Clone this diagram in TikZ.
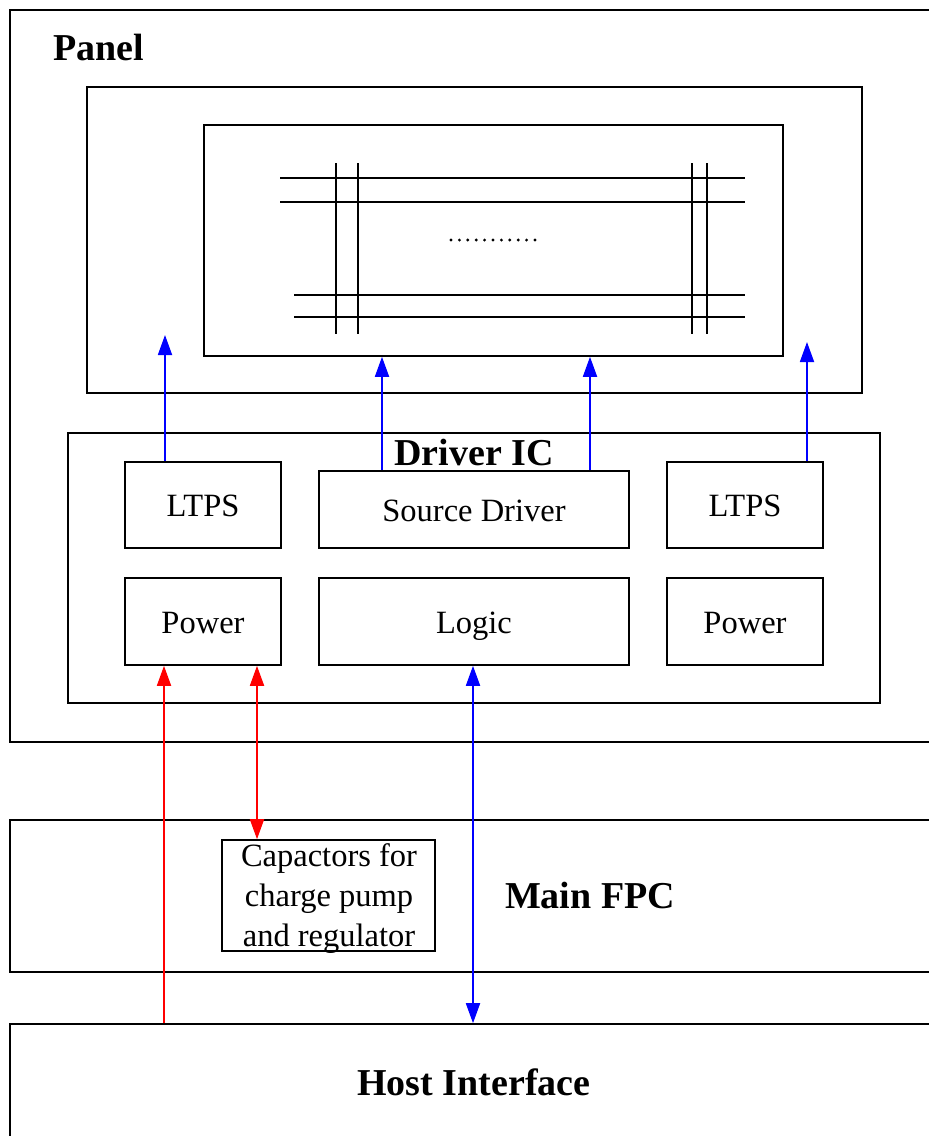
\documentclass[tikz,border=0pt]{standalone}
\usepackage{fontspec}
\setmainfont{Liberation Serif}
\usetikzlibrary{arrows.meta,calc}

\begin{document}
\begin{tikzpicture}[x=1bp,y=-1bp]

\tikzset{
    box/.style={draw,line width=1.6bp,inner sep=0pt,font=\fontsize{32.5bp}{40bp}\selectfont},
    lbl/.style={text height=30bp,text depth=7bp},
    title/.style={font=\fontsize{38bp}{44bp}\selectfont\bfseries},
    wire/.style={line width=1.6bp},
    sig/.style={line width=1.8bp,blue,-{Triangle[length=20bp,width=14bp]}},
    pwr/.style={line width=1.8bp,red,-{Triangle[length=20bp,width=14bp]}},
    pwr2/.style={line width=1.8bp,red,{Triangle[length=20bp,width=14bp]}-{Triangle[length=20bp,width=14bp]}},
    sig2/.style={line width=1.8bp,blue,{Triangle[length=20bp,width=14bp]}-{Triangle[length=20bp,width=14bp]}}}

\useasboundingbox (0,0) rectangle (929,1136);

% panel
\node[box, minimum width=935bp, minimum height=732bp] (panel) at (477.5,376) {};
\node[title] (panelL) at (99,47) {Panel};
\node[box, minimum width=775bp, minimum height=306bp] (glass) at (474.5,240) {};
\node[box, minimum width=579bp, minimum height=231bp] (grid) at (493.5,240.5) {};

\draw[wire] (280,178) -- (745,178);
\draw[wire] (280,202) -- (745,202);
\draw[wire] (294,295) -- (745,295);
\draw[wire] (294,317) -- (745,317);
\foreach \x in {336,358,692,707}
    \draw[wire] (\x,163) -- (\x,334);
\foreach \i in {0,...,10}
    \fill (451+8.4*\i,240) circle (1.6);

% driver IC
\node[box, minimum width=812bp, minimum height=270bp] (drv) at (474,568) {};
\node[title] (drvL) at (474,452) {Driver IC};

\node[box, lbl, minimum width=156bp, minimum height=86bp] (ltpsL) at (203,505) {LTPS};
\node[box, lbl, minimum width=156bp, minimum height=87bp] (powL) at (203,621.5) {Power};
\node[box, lbl, minimum width=310bp, minimum height=77bp] (src) at (474,509.5) {Source Driver};
\node[box, lbl, minimum width=310bp, minimum height=87bp] (logic) at (474,621.5) {Logic};
\node[box, lbl, minimum width=156bp, minimum height=86bp] (ltpsR) at (745,505) {LTPS};
\node[box, lbl, minimum width=156bp, minimum height=87bp] (powR) at (745,621.5) {Power};

% main FPC
\node[box, minimum width=935bp, minimum height=152bp] (fpc) at (477.5,896) {};
\node[title] (fpcL) at (590,895) {Main FPC};
\node[box, minimum width=213bp, minimum height=111bp] (caps) at (328.5,895.5) {};
\node[font=\fontsize{32.5bp}{40bp}\selectfont, align=center] (capsL) at (329,899)
    {Capactors for\\charge pump\\and regulator};

% host
\node[box, minimum width=935bp, minimum height=126bp] (host) at (477.5,1087) {};
\node[title] (hostL) at (474,1082) {Host Interface};

\coordinate (a1) at (165,335);
\coordinate (a2) at (382,0);
\coordinate (a3) at (590,0);
\coordinate (a4) at (807,342);
\coordinate (r1) at (164,0);
\coordinate (r2) at (257,0);
\coordinate (b1) at (473,0);

\draw[sig] (ltpsL.north -| a1) -- (a1);
\draw[sig] (src.north -| a2) -- (grid.south -| a2);
\draw[sig] (src.north -| a3) -- (grid.south -| a3);
\draw[sig] (ltpsR.north -| a4) -- (a4);

\draw[pwr] (host.north -| r1) -- (powL.south -| r1);
\draw[pwr2] (powL.south -| r2) -- (caps.north -| r2);
\draw[sig2] (logic.south -| b1) -- (host.north -| b1);

\end{tikzpicture}
\end{document}
